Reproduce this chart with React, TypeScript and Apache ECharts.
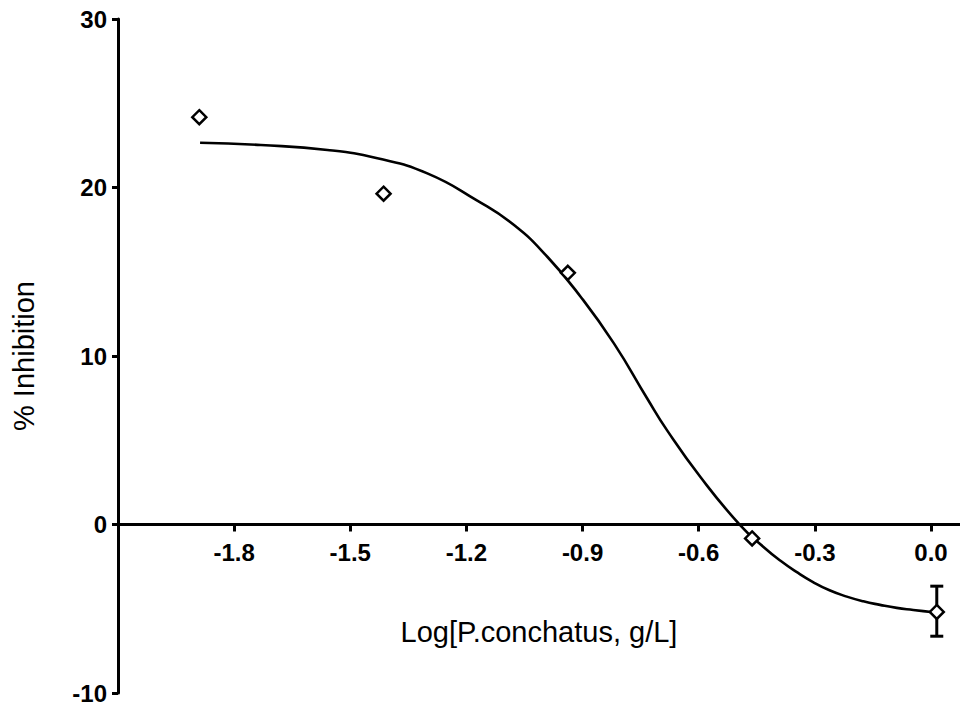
import React, { useEffect, useRef } from "react";
import * as echarts from "echarts";

// Observed data points (log concentration, % inhibition)
const pointX = [-1.89, -1.414, -0.938, -0.462, 0.015];
const pointY = [24.17, 19.63, 14.94, -0.83, -5.19];
// Error bar on last point (low, high)
const errLow = [null, null, null, null, -6.63];
const errHigh = [null, null, null, null, -3.66];

// Fitted curve
const curveX = [-1.888, -1.731, -1.559, -1.43, -1.301, -1.172, -1.077, -0.991, -0.905, -0.819, -0.733, -0.682, -0.596, -0.493, -0.4326, -0.3895, -0.3464, -0.3036, -0.2605, -0.2174, -0.1746, -0.1315, -0.0885, -0.0457, 0.006, 0.015];
const curveY = [22.66, 22.52, 22.23, 21.73, 20.84, 19.22, 17.77, 15.89, 13.52, 10.75, 7.48, 5.6, 2.83, -0.04, -1.33, -2.14, -2.83, -3.43, -3.92, -4.28, -4.56, -4.77, -4.95, -5.07, -5.21, -5.23];

const xTitle = "Log[P.conchatus, g/L]";
const yTitle = "% Inhibition";

const FONT = "'Liberation Sans', Arial, Helvetica, sans-serif";

const W = 960;
const H = 706;
const GRID = { left: 118, right: 0, top: 19, bottom: 13 };
const Y_MIN = -10;
const Y_MAX = 30;

export default function App() {
  const ref = useRef<HTMLDivElement>(null);
  useEffect(() => {
    if (!ref.current) return;
    const chart = echarts.init(ref.current, null, { renderer: "svg" });
    const points = pointX.map((x, i) => [x, pointY[i]]);
    const curve = curveX.map((x, i) => [x, curveY[i]]);
    const errs = pointX
      .map((x, i) => [x, errLow[i], errHigh[i]])
      .filter((d) => d[1] !== null);
    const gridH = H - GRID.top - GRID.bottom;
    const zeroOffset = -gridH * (0 - Y_MIN) / (Y_MAX - Y_MIN);
    chart.setOption({
      animation: false,
      backgroundColor: "#ffffff",
      grid: { ...GRID, containLabel: false, outerBoundsMode: "none" },
      xAxis: {
        type: "value",
        min: -2.1,
        max: 0.075,
        interval: 0.3,
        offset: zeroOffset,
        name: xTitle,
        nameLocation: "middle",
        nameGap: 93,
        nameTextStyle: { fontFamily: FONT, fontSize: 29, color: "#000" },
        axisLine: { onZero: false, lineStyle: { color: "#000", width: 3 } },
        axisTick: { show: true, length: 7, lineStyle: { color: "#000", width: 3 } },
        axisLabel: {
          showMinLabel: false,
          margin: 16,
          fontFamily: FONT,
          fontSize: 24,
          fontWeight: "bold",
          color: "#000",
          formatter: (v: number) => (Math.abs(v) < 1e-9 ? "0.0" : v.toFixed(1)),
        },
        splitLine: { show: false },
      },
      yAxis: {
        type: "value",
        min: Y_MIN,
        max: Y_MAX,
        interval: 10,
        name: yTitle,
        nameLocation: "middle",
        nameRotate: 90,
        nameGap: 80,
        nameTextStyle: { fontFamily: FONT, fontSize: 29, color: "#000" },
        axisLine: { show: true, onZero: false, lineStyle: { color: "#000", width: 3 } },
        axisTick: { show: true, length: 6, lineStyle: { color: "#000", width: 3 } },
        axisLabel: {
          margin: 11,
          fontFamily: FONT,
          fontSize: 24,
          fontWeight: "bold",
          color: "#000",
        },
        splitLine: { show: false },
      },
      series: [
        {
          type: "line",
          data: curve,
          smooth: 0.5,
          showSymbol: false,
          lineStyle: { color: "#000", width: 2.6 },
          z: 2,
        },
        {
          type: "custom",
          data: errs,
          z: 3,
          renderItem: (params: any, api: any) => {
            const x = api.value(0);
            const lo = api.coord([x, api.value(1)]);
            const hi = api.coord([x, api.value(2)]);
            const half = 6.5;
            const style = { stroke: "#000", lineWidth: 3 };
            return {
              type: "group",
              children: [
                { type: "line", shape: { x1: lo[0], y1: lo[1], x2: hi[0], y2: hi[1] }, style },
                { type: "line", shape: { x1: lo[0] - half, y1: lo[1], x2: lo[0] + half, y2: lo[1] }, style },
                { type: "line", shape: { x1: hi[0] - half, y1: hi[1], x2: hi[0] + half, y2: hi[1] }, style },
              ],
            };
          },
        },
        {
          type: "scatter",
          data: points,
          symbol: "diamond",
          symbolSize: [14, 14],
          itemStyle: { color: "#fff", borderColor: "#000", borderWidth: 2.5, opacity: 1 },
          z: 4,
        },
      ],
    });
    return () => chart.dispose();
  }, []);
  return (
    <div
      ref={ref}
      style={{ position: "fixed", left: 0, top: 0, width: W, height: H, background: "#fff" }}
    />
  );
}
